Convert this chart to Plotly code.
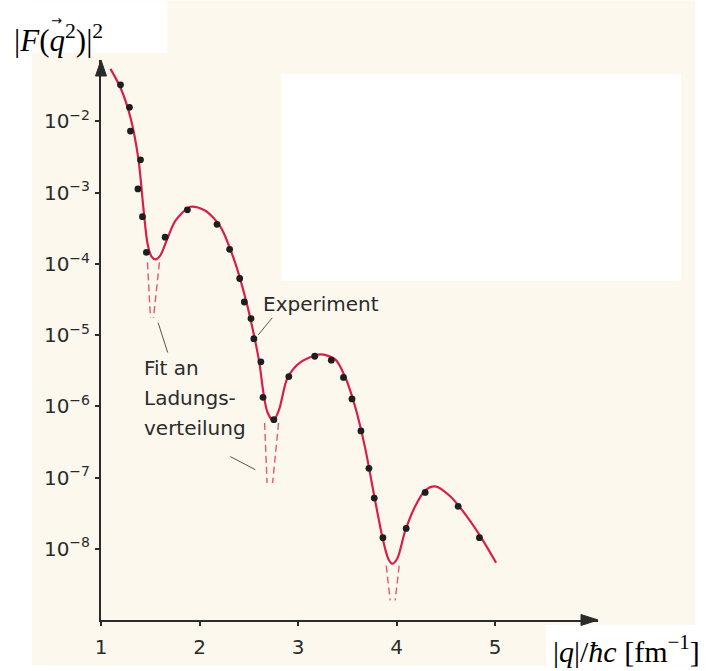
import plotly.graph_objects as go

# ---------------- data ----------------
# experimental points: momentum transfer |q|/hbar c [fm^-1] and |F(q^2)|^2
exp_q = [1.198, 1.289, 1.299, 1.401, 1.375, 1.421, 1.461, 1.651, 1.877, 2.178,
         2.306, 2.408, 2.455, 2.523, 2.552, 2.623, 2.645, 2.755, 2.907, 3.170,
         3.338, 3.462, 3.548, 3.639, 3.720, 3.774, 3.862, 4.098, 4.291, 4.626, 4.842]
exp_f = [3.27e-2, 1.58e-2, 7.33e-3, 2.89e-3, 1.13e-3, 4.60e-4, 1.45e-4, 2.37e-4, 5.75e-4, 3.60e-4,
         1.60e-4, 6.24e-5, 2.92e-5, 1.71e-5, 8.91e-6, 4.22e-6, 1.34e-6, 6.49e-7, 2.62e-6, 5.05e-6,
         4.45e-6, 2.55e-6, 1.27e-6, 4.52e-7, 1.35e-7, 5.15e-8, 1.43e-8, 1.93e-8, 6.18e-8, 3.94e-8, 1.43e-8]

# fitted curve (fit to the charge distribution)
fit_q = [1.096, 1.198, 1.299, 1.380, 1.431, 1.472, 1.512, 1.553, 1.603, 1.674,
         1.756, 1.908, 2.060, 2.212, 2.364, 2.466, 2.537, 2.607, 2.648, 2.689,
         2.750, 2.810, 2.892, 3.023, 3.226, 3.378, 3.480, 3.581, 3.683, 3.784,
         3.865, 3.916, 3.956, 4.007, 4.088, 4.190, 4.291, 4.393, 4.545, 4.697,
         4.849, 5.011]
fit_f = [5.47e-2, 2.97e-2, 1.14e-2, 2.96e-3, 5.96e-4, 1.94e-4, 1.28e-4, 1.16e-4, 1.32e-4, 2.27e-4,
         4.06e-4, 6.35e-4, 5.58e-4, 3.34e-4, 1.02e-4, 3.32e-5, 1.27e-5, 4.14e-6, 1.58e-6, 8.33e-7,
         6.24e-7, 9.18e-7, 2.48e-6, 4.14e-6, 5.35e-6, 4.56e-6, 2.56e-6, 9.79e-7, 2.55e-7, 4.66e-8,
         1.29e-8, 7.25e-9, 6.18e-9, 7.25e-9, 1.78e-8, 3.96e-8, 6.62e-8, 7.53e-8, 5.47e-8, 3.07e-8,
         1.52e-8, 6.38e-9]

# dashed continuations of the fit into the diffraction minima (pairs of segments)
dip_q = [[1.472, 1.502], [1.593, 1.533],
         [2.661, 2.686], [2.803, 2.742],
         [3.896, 3.936], [4.027, 3.987]]
dip_f = [[1.05e-4, 1.75e-5], [1.05e-4, 1.75e-5],
         [5.86e-7, 8.38e-8], [5.86e-7, 8.38e-8],
         [5.80e-9, 1.89e-9], [5.80e-9, 1.89e-9]]

# leader lines of the labels
lead_q = [[2.739, 2.597], [1.580, 1.677], [2.313, 2.567]]
lead_f = [[1.75e-5, 1.01e-5], [1.49e-5, 5.70e-6], [1.97e-7, 1.29e-7]]

x_ticks = [1, 2, 3, 4, 5]
x_tick_text = ["1", "2", "3", "4", "5"]
y_ticks = [1e-2, 1e-3, 1e-4, 1e-5, 1e-6, 1e-7, 1e-8]
y_tick_text = ["10<sup>\u22122</sup>", "10<sup>\u22123</sup>", "10<sup>\u22124</sup>",
               "10<sup>\u22125</sup>", "10<sup>\u22126</sup>", "10<sup>\u22127</sup>",
               "10<sup>\u22128</sup>"]

# ---------------- layout helpers ----------------
W_FIG, H_FIG = 709, 671
L, R_EDGE, T, B = 100.5, 598.0, 60.0, 625.0
PW, PH = R_EDGE - L, B - T


def px(xp):
    return (xp - L) / PW


def py(yp):
    return (B - yp) / PH


RED = "#d91e4b"
DASH = "#e2577a"
INK = "#2b2b2b"
CREAM = "#fcf8ee"
SANS = "DejaVu Sans"
SERIF = "Liberation Serif"

fig = go.Figure()

for dq, df in zip(dip_q, dip_f):
    fig.add_trace(go.Scatter(x=dq, y=df, mode="lines",
                             line=dict(color=DASH, width=1.4, dash="7px,4px"),
                             hoverinfo="skip", showlegend=False))

fig.add_trace(go.Scatter(x=fit_q, y=fit_f, mode="lines",
                         line=dict(color=RED, width=2.2, shape="spline", smoothing=0.8),
                         showlegend=False))

for lq, lf in zip(lead_q, lead_f):
    fig.add_trace(go.Scatter(x=lq, y=lf, mode="lines",
                             line=dict(color="#555555", width=1),
                             hoverinfo="skip", showlegend=False))

fig.add_trace(go.Scatter(x=exp_q, y=exp_f, mode="markers",
                         marker=dict(color="#1e1e1e", size=6.8),
                         showlegend=False))

shapes = [
    # scanned page background
    dict(type="rect", xref="paper", yref="paper", x0=px(31), x1=px(695), y0=py(0), y1=py(671),
         fillcolor=CREAM, line=dict(width=0), layer="below"),
    # white patches of the page
    dict(type="rect", xref="paper", yref="paper", x0=px(0), x1=px(167), y0=py(0), y1=py(53),
         fillcolor="white", line=dict(width=0), layer="below"),
    dict(type="rect", xref="paper", yref="paper", x0=px(281), x1=px(681), y0=py(74), y1=py(283),
         fillcolor="white", line=dict(width=0), layer="below"),
    dict(type="rect", xref="paper", yref="paper", x0=px(546), x1=px(709), y0=py(630), y1=py(671),
         fillcolor="white", line=dict(width=0), layer="below"),
    # arrow heads of the axes
    dict(type="path", xref="paper", yref="paper", xsizemode="pixel", ysizemode="pixel",
         xanchor=1, yanchor=0, path="M-17,-5.5 L0,0 L-17,5.5 Z",
         fillcolor=INK, line=dict(color=INK, width=1)),
    dict(type="path", xref="paper", yref="paper", xsizemode="pixel", ysizemode="pixel",
         xanchor=0, yanchor=1, path="M-5.5,-16 L0,0 L5.5,-16 Z",
         fillcolor=INK, line=dict(color=INK, width=1)),
]

annotations = [
    dict(text="|<i>F</i>(<i>q</i><sup>2</sup>)|<sup>2</sup>", xref="paper", yref="paper",
         x=px(11), y=py(38), xanchor="left", yanchor="middle", showarrow=False,
         font=dict(family=SERIF, size=31, color="black")),
    # vector arrow over q
    dict(text="\u2192", xref="paper", yref="paper",
         x=px(56), y=py(20), xanchor="center", yanchor="middle", showarrow=False,
         font=dict(family=SANS, size=13, color="black")),
    dict(text="|<i>q</i>|/<i>\u0127c</i> [fm<sup>\u22121</sup>]", xref="paper", yref="paper",
         x=px(551), y=py(654), xanchor="left", yanchor="middle", showarrow=False,
         font=dict(family=SERIF, size=30, color="black")),
    dict(text="Experiment", xref="paper", yref="paper", x=px(261), y=py(306),
         xanchor="left", yanchor="middle", showarrow=False,
         font=dict(family=SANS, size=20, color=INK)),
    dict(text="Fit an", xref="paper", yref="paper", x=px(142), y=py(371),
         xanchor="left", yanchor="middle", showarrow=False,
         font=dict(family=SANS, size=20, color=INK)),
    dict(text="Ladungs-", xref="paper", yref="paper", x=px(142), y=py(401),
         xanchor="left", yanchor="middle", showarrow=False,
         font=dict(family=SANS, size=20, color=INK)),
    dict(text="verteilung", xref="paper", yref="paper", x=px(142), y=py(431),
         xanchor="left", yanchor="middle", showarrow=False,
         font=dict(family=SANS, size=20, color=INK)),
]

fig.update_layout(
    width=W_FIG, height=H_FIG,
    margin=dict(l=L, r=W_FIG - R_EDGE, t=T, b=H_FIG - B, pad=0),
    paper_bgcolor="white", plot_bgcolor="rgba(0,0,0,0)",
    shapes=shapes, annotations=annotations, showlegend=False,
    xaxis=dict(range=[1, 1 + PW / 98.6], showgrid=False, zeroline=False,
               showline=True, linecolor=INK, linewidth=2,
               ticks="outside", ticklen=4, tickwidth=1.5, tickcolor=INK,
               tickvals=x_ticks, ticktext=x_tick_text, ticklabelstandoff=4,
               tickfont=dict(family=SANS, size=20, color=INK)),
    yaxis=dict(type="log", range=[-9.0, -2 + (122 - T) / 71.83], showgrid=False, zeroline=False,
               showline=True, linecolor=INK, linewidth=2,
               ticks="outside", ticklen=4, tickwidth=1.5, tickcolor=INK,
               tickvals=y_ticks, ticktext=y_tick_text, ticklabelstandoff=1,
               tickfont=dict(family=SANS, size=20, color=INK)),
)

fig.write_html("out.html", config={"displayModeBar": False},
               post_script="document.body.style.margin='0';document.body.style.overflow='hidden';")
